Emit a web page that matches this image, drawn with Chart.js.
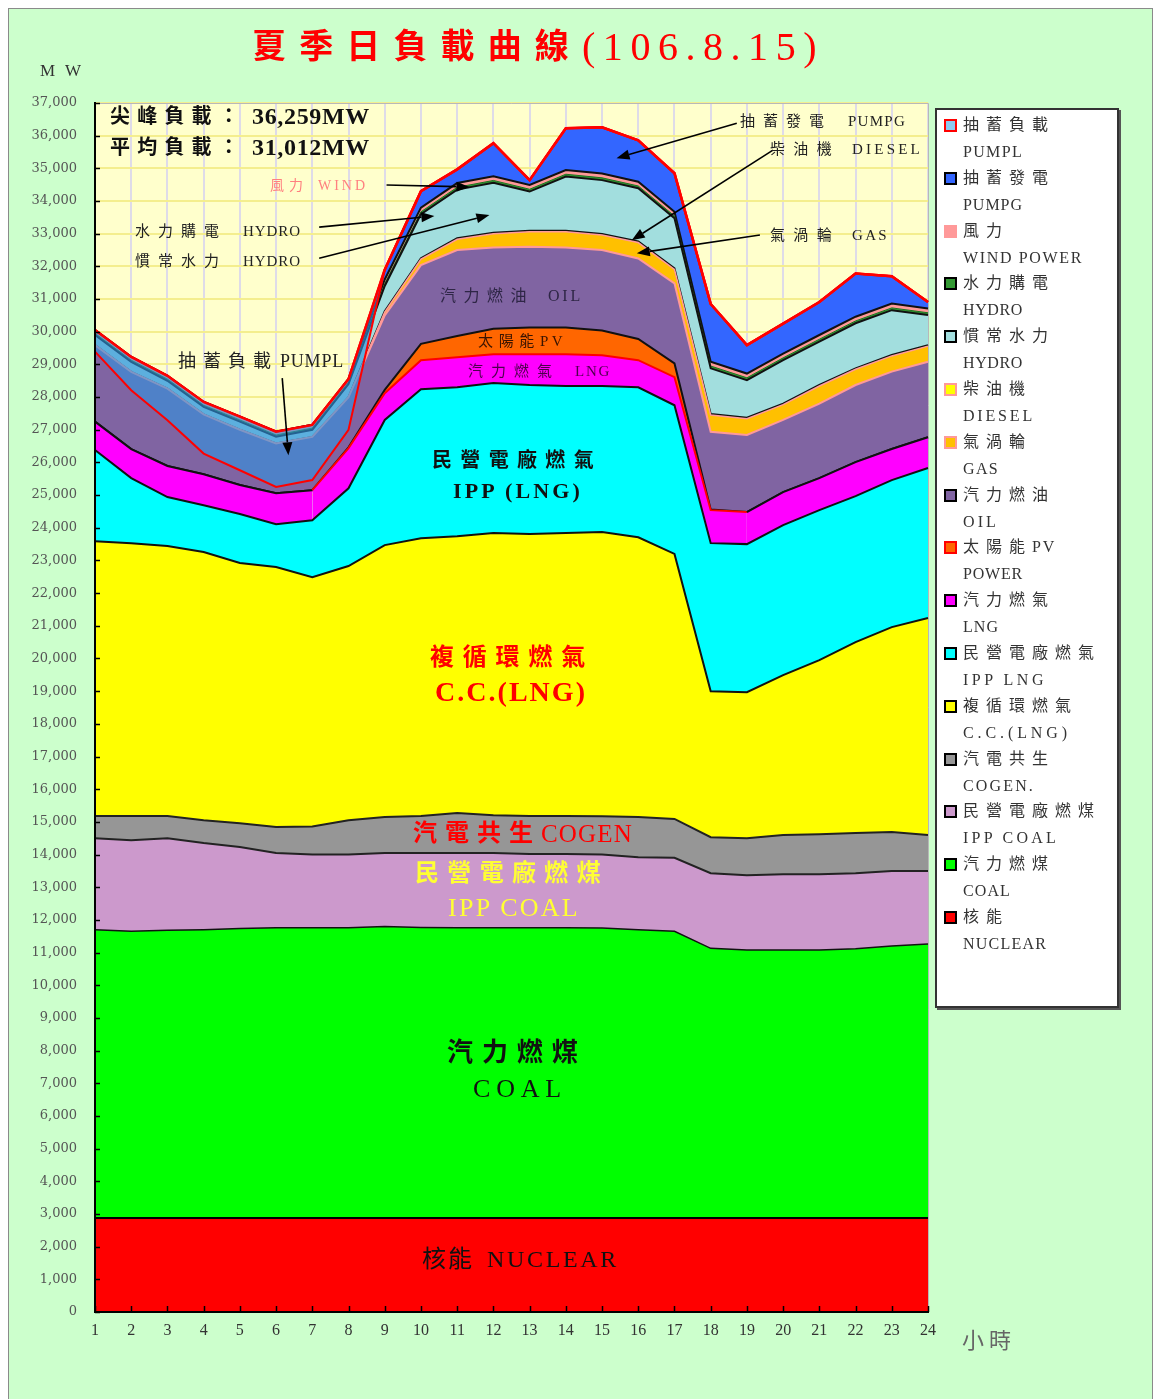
<!DOCTYPE html>
<html>
<head>
<meta charset="utf-8">
<script src="https://cdn.jsdelivr.net/npm/chart.js@4.4.0/dist/chart.umd.min.js"></script>
<style>
  body { margin: 0; background: #fff; }
  #page { position: relative; width: 1154px; height: 1399px; overflow: hidden; }
  #frame { position: absolute; left: 8px; top: 8px; width: 1143px; height: 1400px; background: #ccffcc; border: 1px solid #8a8a8a; }
  #chart { position: absolute; left: 0; top: 0; }
  #legend { position: absolute; left: 935px; top: 108px; width: 180px; height: 896px; background: #fff; border: 2px solid #333; box-shadow: 2px 2px 0 #555; }
  .lbl { position: absolute; white-space: pre; line-height: 1; font-family: "Liberation Serif", "Noto Sans CJK TC", serif; }
  .sw { position: absolute; width: 9px; height: 9px; border: 2px solid #000; }
</style>
</head>
<body>
<div id="page">
  <div id="frame"></div>
  <canvas id="chart" width="1154" height="1399"></canvas>
  <div id="legend"></div>
</div>
<script>
// hours on the x axis
const hours = ['1','2','3','4','5','6','7','8','9','10','11','12','13','14','15','16','17','18','19','20','21','22','23','24'];

// MW per hour, bottom of the stack first
const nuclear   = [2880,2880,2880,2880,2880,2880,2880,2880,2880,2880,2880,2880,2880,2880,2880,2880,2880,2880,2880,2880,2880,2880,2880,2880];
const coal      = [8820,8770,8800,8820,8860,8880,8880,8880,8920,8890,8880,8880,8880,8880,8870,8820,8770,8250,8200,8200,8200,8240,8320,8380];
const ippCoal   = [2800,2790,2820,2650,2490,2290,2240,2240,2250,2280,2290,2290,2260,2260,2250,2220,2250,2300,2290,2320,2320,2310,2300,2240];
const cogen     = [680,740,680,700,730,790,860,1050,1100,1130,1220,1150,1160,1160,1170,1230,1190,1100,1130,1200,1220,1230,1190,1100];
const ccLng     = [8410,8350,8260,8210,7960,7960,7630,7780,8320,8500,8470,8640,8630,8660,8700,8560,8110,4470,4470,4890,5330,5840,6270,6640];
const ippLng    = [2790,1990,1500,1430,1500,1310,1740,2380,3830,4560,4560,4590,4560,4500,4470,4590,4550,4530,4530,4590,4590,4470,4500,4590];
const lng       = [870,890,950,950,890,950,920,1230,820,890,920,880,940,970,940,830,860,1010,980,1010,980,1040,950,940];
const pv        = [0,0,0,0,0,0,0,20,100,500,650,780,820,820,760,650,420,20,0,0,0,0,0,0];
const oil       = [2340,2360,2370,1830,1690,1520,1630,1540,2280,2410,2630,2490,2470,2450,2460,2460,2450,2380,2360,2210,2280,2360,2370,2310];
const gas       = [0,0,0,0,0,0,0,0,100,180,330,420,460,480,460,490,430,510,500,470,540,480,480,480];
const diesel    = [0,0,0,0,0,0,0,0,30,30,30,30,30,30,30,30,30,30,30,30,30,30,30,30];
const hydroConv = [310,310,240,230,250,210,220,400,770,1350,1490,1530,1200,1660,1650,1630,1530,1400,1150,1330,1330,1380,1370,920];
const hydroBuy  = [50,50,50,50,50,50,50,50,70,70,70,70,70,70,70,70,70,70,70,70,70,70,70,70];
const wind      = [100,100,100,100,100,100,100,100,130,130,130,130,130,130,130,130,130,130,130,130,130,130,130,130];
const pumpGen   = [0,0,0,0,0,0,0,0,300,500,420,1010,150,1280,1419,1270,1180,1770,870,920,1010,1320,840,200];

// system load line and pumping load on top of it
const sysLoad   = [29390,28210,27290,26270,25760,25250,25460,27000,31900,34300,34970,35770,34640,36230,36259,35860,34850,30850,29590,30250,30910,31780,31700,30910];
const pumpLoad  = [660,1020,1360,1580,1640,1690,1690,1550,0,0,0,0,0,0,0,0,0,0,0,0,0,0,0,0];

const peakText = '36,259MW';
const avgText = '31,012MW';

const layers = [
  { zh: '核能', en: 'NUCLEAR', data: nuclear, color: '#ff0000', line: '#000', w: 2, sw: '#000' },
  { zh: '汽力燃煤', en: 'COAL', data: coal, color: '#00ff00', line: '#111', w: 1.5, sw: '#000' },
  { zh: '民營電廠燃煤', en: 'IPP COAL', data: ippCoal, color: '#cc99cc', line: '#222', w: 2, sw: '#000' },
  { zh: '汽電共生', en: 'COGEN.', data: cogen, color: '#969696', line: '#222', w: 2, sw: '#000' },
  { zh: '複循環燃氣', en: 'C.C.(LNG)', data: ccLng, color: '#ffff00', line: '#111', w: 2, sw: '#000' },
  { zh: '民營電廠燃氣', en: 'IPP LNG', data: ippLng, color: '#00ffff', line: '#111', w: 2, sw: '#000' },
  { zh: '汽力燃氣', en: 'LNG', data: lng, color: '#ff00ff', line: '#111', w: 2, sw: '#000' },
  { zh: '太陽能PV', en: 'POWER', data: pv, color: '#ff6600', line: '#111', w: 2, sw: '#ff0000' },
  { zh: '汽力燃油', en: 'OIL', data: oil, color: '#8064a2', line: '#ff9999', w: 2, sw: '#000' },
  { zh: '氣渦輪', en: 'GAS', data: gas, color: '#ffc000', line: '#ff9999', w: 1.5, sw: '#ff9999' },
  { zh: '柴油機', en: 'DIESEL', data: diesel, color: '#ffff00', line: '#111', w: 2, sw: '#ff9999' },
  { zh: '慣常水力', en: 'HYDRO', data: hydroConv, color: '#a2dede', line: '#111', w: 2, sw: '#000' },
  { zh: '水力購電', en: 'HYDRO', data: hydroBuy, color: '#339933', line: '#1f6f1f', w: 1, sw: '#000' },
  { zh: '風力', en: 'WIND POWER', data: wind, color: '#ff9999', line: '#111', w: 2, sw: '#ff9999' },
  { zh: '抽蓄發電', en: 'PUMPG', data: pumpGen, color: '#3366ff', line: '#ff0000', w: 2.5, sw: '#000' }
];

const datasets = [
  { label: '系統負載', data: sysLoad, stack: 'pump', fill: false, borderColor: '#ff0000', borderWidth: 2, backgroundColor: 'transparent' },
  { label: '抽蓄負載 PUMPL', data: pumpLoad, stack: 'pump', fill: '-1', borderColor: '#ff0000', borderWidth: 2.5, backgroundColor: 'rgba(49,147,222,0.62)' }
];
layers.forEach((s, i) => {
  const ds = {
    label: s.zh + ' ' + s.en,
    data: s.data,
    stack: 'gen',
    fill: i === 0 ? 'origin' : '-1',
    backgroundColor: s.color,
    borderColor: s.line,
    borderWidth: s.w
  };
  if (s.data === lng) {
    // red edge where the PV band sits on top of it
    ds.segment = { borderColor: c => (pv[c.p0DataIndex] > 0 || pv[c.p1DataIndex] > 0) ? '#ff0000' : '#111' };
  }
  datasets.push(ds);
});

// annotation arrows: [tail hour, tail MW, tip hour, tip MW]
const arrows = [
  [9.05, 34490, 11.34, 34430],
  [7.19, 33200, 10.37, 33540],
  [7.19, 32250, 11.89, 33570],
  [6.17, 28580, 6.34, 26220],
  [18.72, 36380, 15.40, 35310],
  [19.72, 35560, 15.82, 32800],
  [19.36, 32960, 15.96, 32400]
];

const decor = {
  id: 'decor',
  beforeDraw(chart) {
    const { ctx, chartArea: a } = chart;
    ctx.save();
    ctx.fillStyle = '#ffffcc';
    ctx.fillRect(a.left, a.top, a.right - a.left, a.bottom - a.top);
    ctx.restore();
  },
  beforeDatasetsDraw(chart) {
    const { ctx, chartArea: a } = chart;
    ctx.save();
    ctx.strokeStyle = '#b8b8b8';
    ctx.lineWidth = 1;
    ctx.beginPath();
    ctx.moveTo(a.left, a.top + 0.5);
    ctx.lineTo(a.right + 0.5, a.top + 0.5);
    ctx.lineTo(a.right + 0.5, a.bottom);
    ctx.stroke();
    ctx.restore();
  },
  afterDatasetsDraw(chart) {
    const { ctx, chartArea: a, scales } = chart;
    const xs = scales.x, ys = scales.y;
    ctx.save();
    // axis lines and inner ticks
    ctx.strokeStyle = '#000';
    ctx.lineWidth = 2;
    ctx.beginPath();
    ctx.moveTo(a.left, a.top);
    ctx.lineTo(a.left, a.bottom);
    ctx.lineTo(a.right, a.bottom);
    ctx.stroke();
    ctx.lineWidth = 1.5;
    ctx.beginPath();
    ys.ticks.forEach(t => {
      const y = Math.round(ys.getPixelForValue(t.value)) + 0.5;
      ctx.moveTo(a.left, y);
      ctx.lineTo(a.left + 5, y);
    });
    hours.forEach((h, i) => {
      const x = Math.round(xs.getPixelForValue(i)) + 0.5;
      ctx.moveTo(x, a.bottom);
      ctx.lineTo(x, a.bottom - 6);
    });
    ctx.stroke();
    // arrows
    ctx.fillStyle = '#000';
    ctx.lineWidth = 1.6;
    arrows.forEach(([h0, v0, h1, v1]) => {
      const x0 = xs.getPixelForValue(h0 - 1), y0 = ys.getPixelForValue(v0);
      const x1 = xs.getPixelForValue(h1 - 1), y1 = ys.getPixelForValue(v1);
      const ang = Math.atan2(y1 - y0, x1 - x0);
      const L = 13, W = 5;
      const bx = x1 - L * Math.cos(ang), by = y1 - L * Math.sin(ang);
      ctx.beginPath();
      ctx.moveTo(x0, y0);
      ctx.lineTo(bx, by);
      ctx.stroke();
      ctx.beginPath();
      ctx.moveTo(x1, y1);
      ctx.lineTo(bx + W * Math.sin(ang), by - W * Math.cos(ang));
      ctx.lineTo(bx - W * Math.sin(ang), by + W * Math.cos(ang));
      ctx.closePath();
      ctx.fill();
    });
    ctx.restore();
  }
};

Chart.defaults.font.family = '"DejaVu Serif", serif';

new Chart(document.getElementById('chart'), {
  type: 'line',
  data: { labels: hours, datasets: datasets },
  options: {
    responsive: false,
    animation: false,
    devicePixelRatio: 1,
    layout: { padding: { left: 0, top: 103, right: 226, bottom: 0 } },
    elements: { point: { radius: 0, hoverRadius: 0 }, line: { tension: 0 } },
    plugins: {
      legend: { display: false },
      tooltip: { enabled: false },
      title: { display: false }
    },
    scales: {
      x: {
        offset: false,
        grid: { color: '#dedbe8', lineWidth: 2, drawTicks: false, offset: false },
        border: { color: '#000', width: 2 },
        ticks: { autoSkip: false, maxRotation: 0, padding: 9, color: '#333', font: { family: '"Liberation Serif", serif', size: 16 } },
        afterFit: s => { s.height = 87; }
      },
      y: {
        stacked: true,
        min: 0,
        max: 37000,
        grid: { color: '#f4ee8e', lineWidth: 2, drawTicks: false },
        border: { color: '#000', width: 2 },
        ticks: {
          stepSize: 1000,
          autoSkip: false,
          padding: 18,
          color: '#555',
          font: { size: 13 },
          callback: v => v.toLocaleString('en-US')
        },
        afterFit: s => { s.width = 95; }
      }
    }
  },
  plugins: [decor]
});

// text on the page, each piece stretched to the width it has in the original
const page = document.getElementById('page');
function placeText(t, x, y, w, size, color, bold, family) {
  const el = document.createElement('div');
  el.className = 'lbl';
  el.textContent = t;
  el.style.left = x + 'px';
  el.style.top = (y - size / 2) + 'px';
  el.style.fontSize = size + 'px';
  el.style.color = color;
  if (bold) el.style.fontWeight = 'bold';
  if (family) el.style.fontFamily = family;
  page.appendChild(el);
  const n = [...t].length;
  const w0 = el.getBoundingClientRect().width;
  el.style.letterSpacing = ((w - w0) / n).toFixed(2) + 'px';
  return el;
}
// a label made of a Chinese part and a Latin part
function placePair(zh, x1, w1, en, x2, w2, y, size, color, bold, enSize) {
  placeText(zh, x1, y, w1, size, color, bold);
  placeText(en, x2, y, w2, enSize || size, color, bold);
}

placeText('夏季日負載曲線', 252, 47, 330, 34, '#ff0000', true);
placeText('(106.8.15)', 582, 47, 242, 40, '#ff0000');
placeText('M W', 40, 70, 44, 17, '#333');
placeText('小時', 962, 1338, 54, 22, '#666', false, '"Noto Sans CJK TC", sans-serif');

placePair('尖峰負載：', 110, 136, peakText, 252, 118, 116, 20, '#111', true, 24);
placePair('平均負載：', 110, 136, avgText, 252, 118, 147, 20, '#111', true, 24);

placePair('風力', 270, 38, 'WIND', 318, 50, 186, 14, '#ff8080');
placePair('水力購電', 135, 92, 'HYDRO', 243, 58, 231, 15, '#222');
placePair('慣常水力', 135, 92, 'HYDRO', 243, 58, 261, 15, '#222');
placePair('抽蓄負載', 178, 100, 'PUMPL', 280, 64, 361, 18, '#222');
placePair('抽蓄發電', 740, 92, 'PUMPG', 848, 58, 121, 15, '#222');
placePair('柴油機', 770, 70, 'DIESEL', 852, 71, 149, 15, '#222');
placePair('氣渦輪', 770, 70, 'GAS', 852, 37, 235, 15, '#222');
placePair('汽力燃油', 440, 94, 'OIL', 548, 35, 296, 16, '#2e2646');
placePair('太陽能', 478, 62, 'PV', 540, 26, 341, 15, '#3a1400');
placePair('汽力燃氣', 468, 92, 'LNG', 575, 36, 371, 15, '#4d004d');
placeText('民營電廠燃氣', 432, 460, 170, 20, '#111', true);
placeText('IPP (LNG)', 453, 491, 130, 22, '#111', true);
placeText('複循環燃氣', 430, 657, 164, 24, '#ff0000', true);
placeText('C.C.(LNG)', 435, 692, 152, 28, '#ff0000', true);
placeText('汽電共生', 413, 833, 128, 24, '#ff0000', true);
placeText('COGEN', 541, 833, 92, 25, '#ff0000');
placeText('民營電廠燃煤', 415, 873, 194, 24, '#ffff33', true);
placeText('IPP COAL', 448, 908, 132, 26, '#ffff33');
placeText('汽力燃煤', 447, 1053, 140, 26, '#111', true);
placeText('COAL', 473, 1089, 94, 26, '#111');
placePair('核能', 422, 52, 'NUCLEAR', 487, 132, 1259, 24, '#111', false, 24);

// legend, top entry first
const legendItems = [{ zh: '抽蓄負載', en: 'PUMPL', color: '#8ccaf0', sw: '#ff0000' }].concat(layers.slice().reverse());
legendItems.forEach((it, i) => {
  const cy = 125 + i * 52.8;
  const sw = document.createElement('div');
  sw.className = 'sw';
  sw.style.left = '944px';
  sw.style.top = (cy - 6) + 'px';
  sw.style.background = it.color;
  sw.style.borderColor = it.sw;
  page.appendChild(sw);
  const chars = [...it.zh];
  const cjk = chars.filter(c => c.charCodeAt(0) > 255).join('');
  const lat = chars.filter(c => c.charCodeAt(0) <= 255).join('');
  placeText(cjk, 963, cy, cjk.length * 23, 16, '#333');
  if (lat) placeText(lat, 963 + cjk.length * 23, cy, lat.length * 12, 16, '#333');
  placeText(it.en, 963, cy + 27, it.en.length * 12, 16, '#333');
});
</script>
</body>
</html>
